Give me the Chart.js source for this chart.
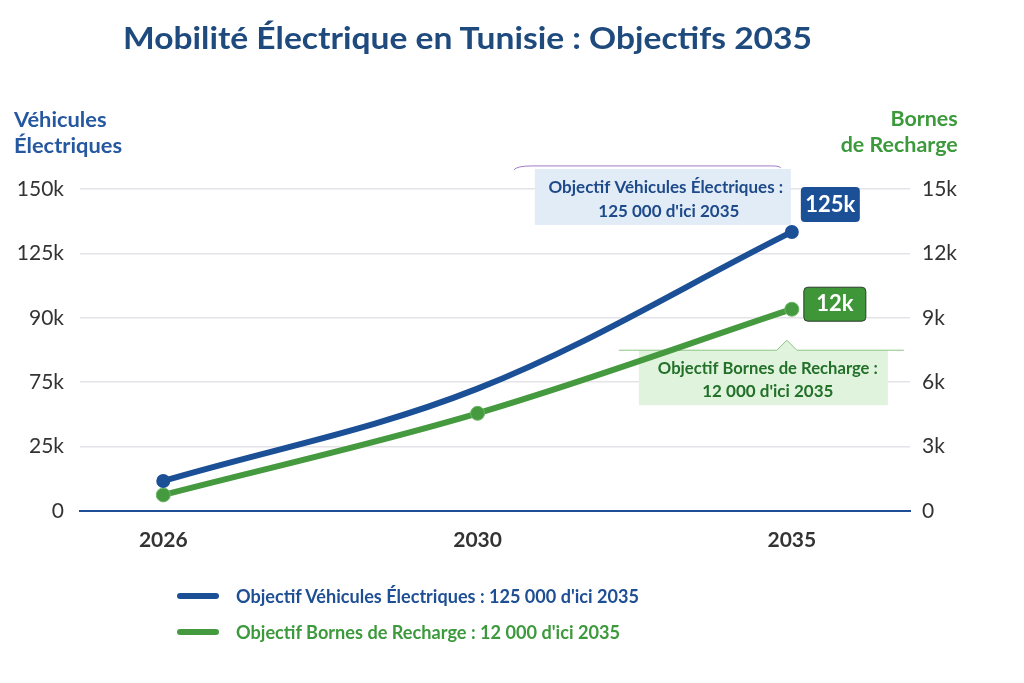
<!DOCTYPE html>
<html lang="fr">
<head>
<meta charset="utf-8">
<title>Mobilité Électrique en Tunisie : Objectifs 2035</title>
<script src="https://cdn.jsdelivr.net/npm/chart.js@4.4.1/dist/chart.umd.min.js"></script>
<style>
  html, body { margin: 0; padding: 0; background: #fff; }
  #wrap { position: relative; width: 1024px; height: 683px; overflow: hidden; font-family: Lato, "Open Sans", sans-serif; }
  #chart { position: absolute; left: 0; top: 0; }
  .txt { position: absolute; white-space: nowrap; font-weight: 700; }
  #title { left: 123px; top: 22px; font-size: 31px; line-height: 31px; color: #1f4a7e; }
  #axisLeft { left: 14px; top: 106px; font-size: 21px; line-height: 26px; color: #2558a0; }
  #axisRight { right: 66px; top: 105px; font-size: 21px; line-height: 26px; color: #3c9a3c; text-align: right; }
  .legend { left: 177px; display: flex; align-items: center; }
  .legend .swatch { width: 42px; height: 6px; border-radius: 3px; margin-right: 17px; }
  .legend span.lab { font-size: 19px; line-height: 19px; display: inline-block; }
  #legBlue { top: 586px; color: #1e4f94; }
  #legBlue .swatch { background: #1b4f96; }
  #legGreen { top: 622px; color: #3c9a3c; }
  #legGreen .swatch { background: #45993e; }
</style>
</head>
<body>
<div id="wrap">
  <canvas id="chart" width="1024" height="683"></canvas>
  <div id="title" class="txt">Mobilité Électrique en Tunisie : Objectifs 2035</div>
  <div id="axisLeft" class="txt">Véhicules<br>Électriques</div>
  <div id="axisRight" class="txt">Bornes<br>de Recharge</div>
  <div id="legBlue" class="txt legend"><div class="swatch"></div><span class="lab">Objectif Véhicules Électriques : 125 000 d'ici 2035</span></div>
  <div id="legGreen" class="txt legend"><div class="swatch"></div><span class="lab">Objectif Bornes de Recharge : 12 000 d'ici 2035</span></div>
</div>
<script>
const years = ['2026', '2030', '2035'];
const vehicules = [14000, 57000, 130000];
const bornes = [750, 4550, 9400];
const leftTicks = ['0', '25k', '75k', '90k', '125k', '150k'];
const rightTicks = ['0', '3k', '6k', '9k', '12k', '15k'];

const BLUE = '#1b4f96';
const GREEN = '#45993e';

// squeeze a text block horizontally to the width it has in the picture
function fitWidth(el, w, origin) {
  const nat = el.getBoundingClientRect().width;
  el.style.transformOrigin = origin || 'left center';
  el.style.transform = 'scaleX(' + (w / nat) + ')';
}

function roundRect(ctx, x, y, w, h, r) {
  ctx.beginPath();
  ctx.moveTo(x + r, y);
  ctx.arcTo(x + w, y, x + w, y + h, r);
  ctx.arcTo(x + w, y + h, x, y + h, r);
  ctx.arcTo(x, y + h, x, y, r);
  ctx.arcTo(x, y, x + w, y, r);
  ctx.closePath();
}

function label(ctx, str, x, y, maxW, font, color) {
  ctx.font = font;
  ctx.fillStyle = color;
  ctx.textAlign = 'center';
  ctx.textBaseline = 'middle';
  ctx.fillText(str, x, y, maxW);
}

const callouts = {
  id: 'callouts',
  beforeDatasetsDraw(chart) {
    const ctx = chart.ctx;
    const p = chart.getDatasetMeta(0).data[2];
    const g = chart.getDatasetMeta(1).data[2];
    ctx.save();
    // vehicles box
    ctx.fillStyle = '#e2ecf7';
    ctx.fillRect(p.x - 257, p.y - 63, 256, 56);
    ctx.strokeStyle = '#a07ac8';
    ctx.lineWidth = 1;
    ctx.beginPath();
    ctx.moveTo(p.x - 278, p.y - 62);
    ctx.quadraticCurveTo(p.x - 275, p.y - 66, p.x - 260, p.y - 66);
    ctx.lineTo(p.x - 20, p.y - 66);
    ctx.quadraticCurveTo(p.x - 12, p.y - 66, p.x - 11, p.y - 64);
    ctx.stroke();
    label(ctx, 'Objectif Véhicules Électriques :', p.x - 126, p.y - 44, 242, '700 17px Lato', '#1e4a8a');
    label(ctx, "125 000 d'ici 2035", p.x - 123, p.y - 20, 150, '700 17px Lato', '#1e4a8a');

    // charging points box
    ctx.fillStyle = '#e0f3dc';
    ctx.fillRect(g.x - 153, g.y + 41, 249, 55);
    ctx.beginPath();
    ctx.moveTo(g.x - 15, g.y + 41);
    ctx.lineTo(g.x - 5, g.y + 31);
    ctx.lineTo(g.x + 5, g.y + 41);
    ctx.closePath();
    ctx.fill();
    ctx.strokeStyle = '#8cc484';
    ctx.beginPath();
    ctx.moveTo(g.x - 173, g.y + 41);
    ctx.lineTo(g.x - 15, g.y + 41);
    ctx.lineTo(g.x - 5, g.y + 31);
    ctx.lineTo(g.x + 5, g.y + 41);
    ctx.lineTo(g.x + 112, g.y + 41);
    ctx.stroke();
    label(ctx, 'Objectif Bornes de Recharge :', g.x - 24, g.y + 59, 220, '700 17px Lato', '#23702a');
    label(ctx, "12 000 d'ici 2035", g.x - 24, g.y + 82, 139, '700 17px Lato', '#23702a');
    ctx.restore();
  },
  afterDatasetsDraw(chart) {
    const ctx = chart.ctx;
    const p = chart.getDatasetMeta(0).data[2];
    const g = chart.getDatasetMeta(1).data[2];
    ctx.save();
    roundRect(ctx, p.x + 9, p.y - 45, 59, 35, 4);
    ctx.fillStyle = BLUE;
    ctx.fill();
    label(ctx, '125k', p.x + 38.5, p.y - 27, 52, '700 22px Lato', '#fff');

    roundRect(ctx, g.x + 12, g.y - 22, 62, 34, 4);
    ctx.fillStyle = '#3f9639';
    ctx.fill();
    ctx.strokeStyle = '#2e3a2e';
    ctx.lineWidth = 1;
    ctx.stroke();
    label(ctx, '12k', g.x + 43, g.y - 5, 50, '700 22px Lato', '#fff');
    ctx.restore();
  }
};

const tickFont = { family: 'Lato', size: 21 };

new Chart(document.getElementById('chart'), {
  type: 'line',
  data: {
    datasets: [
      {
        label: "Objectif Véhicules Électriques : 125 000 d'ici 2035",
        data: vehicules.map((v, i) => ({ x: i, y: v })),
        yAxisID: 'y',
        borderColor: BLUE,
        backgroundColor: BLUE,
        borderWidth: 6,
        pointRadius: [7, 0, 7],
        pointBorderWidth: 0,
        tension: 0.35
      },
      {
        label: "Objectif Bornes de Recharge : 12 000 d'ici 2035",
        data: bornes.map((v, i) => ({ x: i, y: v })),
        yAxisID: 'y2',
        borderColor: GREEN,
        backgroundColor: GREEN,
        borderWidth: 6,
        pointRadius: 7,
        pointBorderWidth: 1,
        pointBorderColor: '#6cb866',
        tension: 0.35
      }
    ]
  },
  options: {
    responsive: false,
    animation: false,
    layout: { padding: { top: 189, left: 0, right: 0, bottom: 0 } },
    plugins: { legend: { display: false }, tooltip: { enabled: false } },
    scales: {
      x: {
        type: 'linear',
        min: -0.265,
        max: 2.376,
        afterBuildTicks: s => { s.ticks = years.map((_, i) => ({ value: i })); },
        afterFit: s => { s.height = 172; },
        ticks: {
          callback: v => years[v],
          font: { family: 'Lato', size: 21, weight: '700' },
          color: '#333',
          padding: 9
        },
        grid: { display: false },
        border: { display: true, color: '#1f4e96', width: 2 }
      },
      y: {
        position: 'left',
        min: 0,
        max: 150000,
        afterFit: s => { s.width = 80; },
        ticks: {
          stepSize: 30000,
          callback: (v, i) => leftTicks[i],
          font: tickFont,
          color: '#333',
          padding: 16
        },
        grid: { color: '#e4e4e8', lineWidth: 1.5, drawTicks: false },
        border: { display: false }
      },
      y2: {
        position: 'right',
        min: 0,
        max: 15000,
        afterFit: s => { s.width = 114; },
        ticks: {
          stepSize: 3000,
          callback: (v, i) => rightTicks[i],
          font: tickFont,
          color: '#333',
          padding: 12
        },
        grid: { drawOnChartArea: false, drawTicks: false },
        border: { display: false }
      }
    }
  },
  plugins: [callouts]
});

fitWidth(document.getElementById('title'), 689);
fitWidth(document.getElementById('axisLeft'), 108);
fitWidth(document.getElementById('axisRight'), 117, 'right center');
fitWidth(document.querySelector('#legBlue .lab'), 403);
fitWidth(document.querySelector('#legGreen .lab'), 384);
</script>
</body>
</html>
